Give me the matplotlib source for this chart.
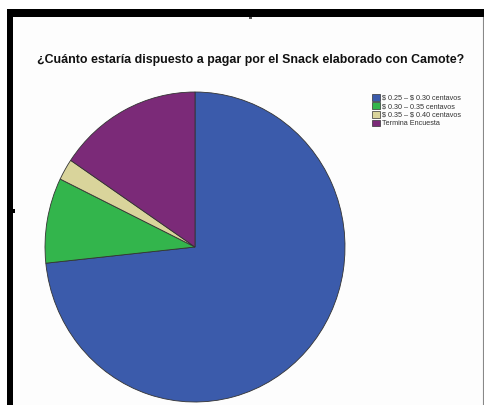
import matplotlib
matplotlib.use("Agg")
import matplotlib.pyplot as plt
from matplotlib.patches import Rectangle

plt.rcParams['font.family'] = ['Liberation Sans', 'DejaVu Sans']

# datos
categorias = [r"\$ 0.25 – \$ 0.30 centavos", r"\$ 0.30 – 0.35 centavos",
              r"\$ 0.35 – \$ 0.40 centavos", "Termina Encuesta"]
frecuencias = [33, 4, 1, 7]
colores = ['#3b5bab', '#33b54c', '#d9d49b', '#7b2a78']
titulo = "¿Cuánto estaría dispuesto a pagar por el Snack elaborado con Camote?"

W, H = 485, 405
fig = plt.figure(figsize=(W / 100, H / 100), dpi=100)
fig.patch.set_facecolor('white')

# fondo y marco (coordenadas en pixeles)
marco = fig.add_axes([0, 0, 1, 1])
marco.set_xlim(0, W)
marco.set_ylim(H, 0)
marco.axis('off')
marco.add_patch(Rectangle((13, 17), 470, 400, facecolor='#fdfdfd', edgecolor='none'))
marco.add_patch(Rectangle((7, 9), 478, 8, facecolor='black', edgecolor='none'))
marco.add_patch(Rectangle((7, 9), 6, 400, facecolor='black', edgecolor='none'))
marco.add_patch(Rectangle((13, 209), 2, 4, facecolor='black', edgecolor='none'))
marco.add_patch(Rectangle((249, 17), 3, 2, facecolor='#555555', edgecolor='none'))
marco.plot([483, 483], [17, H], color='#888888', linewidth=0.8)

# titulo
fig.text(251 / W, 1 - 60 / H, titulo, ha='center', va='center',
         fontsize=8.9, fontweight='bold', color='#111111')

# pastel
ax = fig.add_axes([45 / W, 3 / H, 300 / W, 310 / H])
wedges, _ = ax.pie(frecuencias, colors=colores, startangle=90, counterclock=False,
                   wedgeprops=dict(edgecolor='#333333', linewidth=0.6))
ax.set_aspect('auto')
ax.set_xlim(-1, 1)
ax.set_ylim(-1, 1)
ax.axis('off')

# leyenda
fig.legend(wedges, categorias, loc='upper left', bbox_to_anchor=(368 / W, 1 - 90 / H),
           fontsize=5.2, frameon=False, handlelength=1.1, handleheight=1.1,
           handletextpad=0.3, labelspacing=0.1, borderpad=0, labelcolor='#333333')
for h in fig.legends[0].legend_handles:
    h.set_edgecolor('#333333')
    h.set_linewidth(0.5)

fig.savefig('out.png', dpi=100, facecolor='white')
